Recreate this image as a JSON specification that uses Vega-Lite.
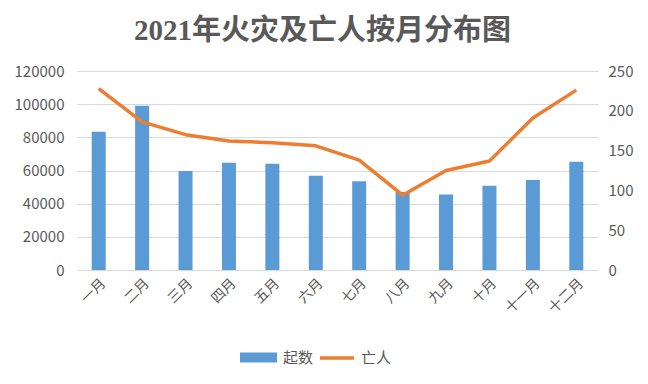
{
  "$schema": "https://vega.github.io/schema/vega-lite/v6.json",
  "width": 521,
  "height": 199,
  "autosize": "none",
  "padding": {"left": 77, "top": 71, "right": 50, "bottom": 114},
  "background": "white",
  "title": {
    "text": "2021年火灾及亡人按月分布图",
    "font": "Liberation Serif, Noto Sans CJK SC",
    "fontSize": 29,
    "fontWeight": "bold",
    "color": "#595959",
    "anchor": "middle",
    "dx": -15,
    "offset": 18
  },
  "config": {"view": {"stroke": null}},
  "data": {
    "values": [
      {"month": "一月", "fires": 83400, "deaths": 228},
      {"month": "二月", "fires": 99000, "deaths": 186},
      {"month": "三月", "fires": 59700, "deaths": 170},
      {"month": "四月", "fires": 64700, "deaths": 162},
      {"month": "五月", "fires": 64100, "deaths": 160},
      {"month": "六月", "fires": 56900, "deaths": 156},
      {"month": "七月", "fires": 53500, "deaths": 138},
      {"month": "八月", "fires": 47000, "deaths": 94},
      {"month": "九月", "fires": 45600, "deaths": 125},
      {"month": "十月", "fires": 50800, "deaths": 137},
      {"month": "十一月", "fires": 54300, "deaths": 191},
      {"month": "十二月", "fires": 65300, "deaths": 226}
    ]
  },
  "encoding": {
    "x": {
      "field": "month",
      "type": "nominal",
      "sort": null,
      "title": null,
      "axis": {
        "labelAngle": -45,
        "labelFont": "Noto Sans CJK SC",
        "labelFontSize": 14,
        "labelColor": "#595959",
        "labelPadding": 6,
        "domain": false,
        "ticks": false
      }
    }
  },
  "layer": [
    {
      "mark": {"type": "bar", "size": 14},
      "encoding": {
        "y": {
          "field": "fires",
          "type": "quantitative",
          "title": null,
          "scale": {"domain": [0, 120000]},
          "axis": {
            "values": [0, 20000, 40000, 60000, 80000, 100000, 120000],
            "format": "d",
            "grid": true,
            "gridColor": "#D9D9D9",
            "domain": false,
            "ticks": false,
            "labelFont": "Noto Sans CJK SC",
            "labelFontSize": 15,
            "labelColor": "#595959",
            "labelPadding": 13
          }
        },
        "fill": {
          "datum": "起数",
          "scale": {"range": ["#5B9BD5"]},
          "legend": {
            "title": null,
            "orient": "none",
            "legendX": 163,
            "legendY": 268,
            "symbolType": "M-1,-0.27H1V0.27H-1Z",
            "symbolSize": 1369,
            "symbolStrokeWidth": 0,
            "labelFont": "Noto Sans CJK SC",
            "labelFontSize": 15,
            "labelColor": "#595959",
            "labelOffset": 6
          }
        }
      }
    },
    {
      "mark": {"type": "line", "strokeWidth": 3.5, "strokeJoin": "round"},
      "encoding": {
        "y": {
          "field": "deaths",
          "type": "quantitative",
          "title": null,
          "scale": {"domain": [0, 250]},
          "axis": {
            "orient": "right",
            "values": [0, 50, 100, 150, 200, 250],
            "grid": false,
            "domain": false,
            "ticks": false,
            "labelFont": "Noto Sans CJK SC",
            "labelFontSize": 15,
            "labelColor": "#595959",
            "labelPadding": 10
          }
        },
        "stroke": {
          "datum": "亡人",
          "scale": {"range": ["#ED7D31"]},
          "legend": {
            "title": null,
            "orient": "none",
            "legendX": 241,
            "legendY": 268,
            "symbolType": "stroke",
            "symbolSize": 1156,
            "symbolStrokeWidth": 3.5,
            "labelFont": "Noto Sans CJK SC",
            "labelFontSize": 15,
            "labelColor": "#595959",
            "labelOffset": 5
          }
        }
      }
    }
  ],
  "resolve": {"scale": {"y": "independent"}}
}
